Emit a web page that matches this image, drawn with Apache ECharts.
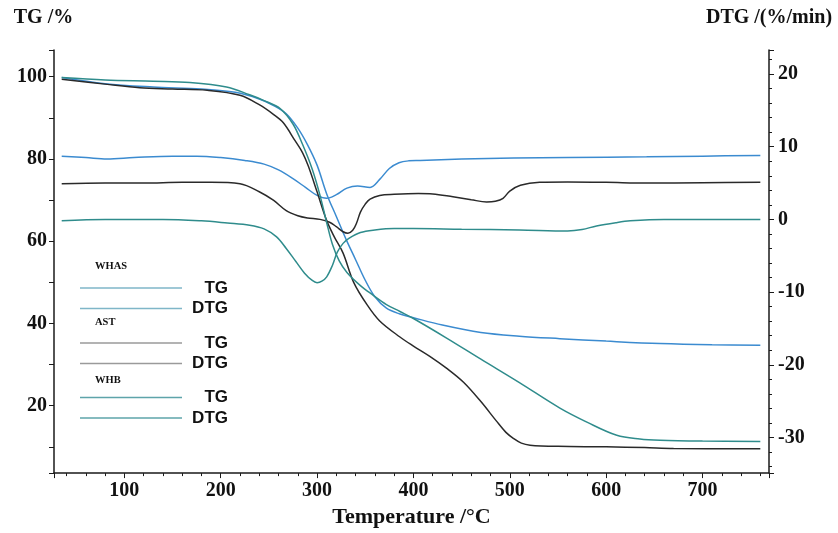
<!DOCTYPE html>
<html>
<head>
<meta charset="utf-8">
<script src="https://cdn.jsdelivr.net/npm/echarts@6/dist/echarts.min.js"></script>
<style>html,body{margin:0;padding:0;background:#fff}#c{width:838px;height:533px}</style>
</head>
<body>
<div id="c"></div>
<script>
// [temperature °C, TG %]
const WHAS_TG = [[35,99.8],[80,98.3],[130,97.5],[180,97.0],[215,96.2],[240,94.6],[255,93.0],[268,91.0],[280,87.5],[290,83.5],[300,78.5],[310,71.5],[320,66.0],[330,60.5],[340,55.5],[350,50.5],[360,46.5],[372,43.7],[386,42.3],[400,41.4],[430,39.6],[470,37.8],[510,36.9],[552,36.3],[600,35.7],[656,35.1],[710,34.8],[760,34.7]];
const AST_TG = [[35,99.4],[80,98.2],[116,97.3],[150,97.0],[186,96.7],[220,95.5],[240,93.2],[255,90.8],[265,88.8],[277,84.5],[285,81.5],[291,78.2],[300,72.0],[310,65.0],[318,61.0],[327,57.1],[338,50.0],[352,44.5],[365,40.6],[386,36.7],[400,34.5],[417,32.0],[435,29.0],[452,25.7],[470,21.0],[486,16.3],[496,13.5],[504,12.0],[512,10.9],[521,10.4],[550,10.1],[600,10.0],[640,9.8],[670,9.6],[760,9.5]];
const WHB_TG = [[35,99.8],[80,99.2],[130,98.9],[168,98.6],[206,97.5],[230,95.6],[245,94.2],[262,92.2],[275,88.5],[285,83.5],[295,77.5],[303,71.2],[310,64.5],[316,59.2],[323,55.2],[331,52.4],[345,49.2],[358,46.9],[372,44.6],[386,42.9],[400,41.2],[434,36.5],[470,31.3],[510,25.6],[552,19.4],[580,16.0],[611,12.8],[635,11.9],[656,11.6],[700,11.4],[760,11.3]];
// [temperature °C, DTG %/min]
const WHAS_DTG = [[35,8.7],[60,8.5],[82,8.3],[110,8.5],[150,8.7],[175,8.7],[200,8.5],[225,8.1],[245,7.6],[260,6.8],[275,5.6],[288,4.4],[300,3.3],[310,2.9],[320,3.4],[331,4.3],[342,4.6],[355,4.4],[365,5.5],[375,7.0],[385,7.8],[395,8.05],[407,8.1],[450,8.3],[504,8.45],[560,8.5],[642,8.6],[700,8.7],[760,8.8]];
const AST_DTG = [[35,4.9],[80,5.0],[120,5.0],[160,5.1],[190,5.1],[220,4.9],[240,3.8],[255,2.6],[268,1.2],[280,0.5],[290,0.2],[303,0.0],[313,-0.4],[320,-1.0],[327,-1.7],[332,-1.9],[337,-1.5],[341,-0.5],[345,1.0],[350,2.1],[355,2.8],[365,3.3],[380,3.45],[405,3.55],[420,3.5],[441,3.1],[460,2.7],[476,2.4],[485,2.5],[493,2.9],[500,3.9],[511,4.7],[531,5.1],[560,5.15],[600,5.1],[642,5.0],[700,5.05],[760,5.1]];
const WHB_DTG = [[35,-0.2],[80,0.0],[140,0.0],[180,-0.2],[207,-0.5],[230,-0.8],[245,-1.3],[258,-2.4],[268,-4.0],[278,-5.8],[287,-7.4],[295,-8.4],[300,-8.7],[305,-8.5],[310,-7.9],[316,-6.3],[321,-4.5],[327,-3.3],[333,-2.6],[345,-1.8],[360,-1.45],[380,-1.25],[400,-1.25],[450,-1.35],[510,-1.45],[560,-1.6],[575,-1.4],[590,-0.9],[610,-0.45],[625,-0.2],[660,0.0],[760,0.0]];

const groups = ['WHAS', 'AST', 'WHB'];
const lineColors = {WHAS: '#3b8bd0', AST: '#2a2a2a', WHB: '#2f8c8c'};
const legendColors = {WHAS: '#7fb6c8', AST: '#9a9a9a', WHB: '#5ea4aa'};
const legendTops = [279.5, 334.5, 389];
const titleTops = [267, 323, 381];

const serif = 'Liberation Serif';
const sans = 'Liberation Sans';

const chart = echarts.init(document.getElementById('c'), null, {renderer: 'canvas'});

function mkSeries(name, data, yIdx, color) {
  return {
    name: name, type: 'line', data: data, yAxisIndex: yIdx,
    showSymbol: false, symbol: 'none', smooth: 0.35,
    lineStyle: {color: color, width: 1.5}, itemStyle: {color: color},
    animation: false, z: 3
  };
}

const series = [
  mkSeries('WHAS TG', WHAS_TG, 0, lineColors.WHAS),
  mkSeries('WHAS DTG', WHAS_DTG, 1, lineColors.WHAS),
  mkSeries('AST TG', AST_TG, 0, lineColors.AST),
  mkSeries('AST DTG', AST_DTG, 1, lineColors.AST),
  mkSeries('WHB TG', WHB_TG, 0, lineColors.WHB),
  mkSeries('WHB DTG', WHB_DTG, 1, lineColors.WHB)
];

const legends = groups.map((g, i) => ({
  orient: 'vertical', left: 80, top: legendTops[i], padding: 0,
  itemWidth: 102, itemHeight: 1.5, itemGap: 3.5, icon: 'rect',
  selectedMode: false,
  data: ['TG', 'DTG'].map(k => ({name: g + ' ' + k, itemStyle: {color: legendColors[g]}})),
  formatter: n => '{r|' + n.split(' ')[1] + '}',
  textStyle: {
    lineHeight: 14,
    rich: {r: {width: 41, align: 'right', fontFamily: sans, fontWeight: 'bold', fontSize: 17, color: '#111', lineHeight: 14}}
  }
}));

const axisLineStyle = {color: '#1a1a1a', width: 1.5};
const tickFont = {fontFamily: serif, fontWeight: 'bold', fontSize: 20, color: '#111'};

chart.setOption({
  animation: false,
  backgroundColor: '#fff',
  grid: {left: 54, right: 69, top: 50, bottom: 46, containLabel: false},
  legend: legends,
  graphic: groups.map((g, i) => ({
    type: 'text', left: 113 - 18, top: titleTops[i] - 6,
    style: {text: g, width: 36, align: 'center', fontFamily: serif, fontWeight: 'bold', fontSize: 10.5, fill: '#111'}
  })),
  xAxis: {
    type: 'value', min: 27, max: 769,
    name: 'Temperature /°C', nameLocation: 'middle', nameGap: 24,
    nameTextStyle: {fontFamily: serif, fontWeight: 'bold', fontSize: 22, color: '#111'},
    axisLine: {show: true, onZero: false, lineStyle: axisLineStyle},
    axisTick: {show: true, length: 5, lineStyle: {color: '#1a1a1a', width: 1}},
    minorTick: {show: true, splitNumber: 5, length: 3, lineStyle: {color: '#1a1a1a', width: 1}},
    axisLabel: Object.assign({margin: 8, formatter: v => (Math.abs(v % 100) < 1e-6 ? String(v) : '')}, tickFont),
    splitLine: {show: false}
  },
  yAxis: [
    {
      type: 'value', min: 3.6, max: 106.5, position: 'left',
      name: 'TG /%', nameLocation: 'end', nameGap: 22,
      nameTextStyle: {fontFamily: serif, fontWeight: 'bold', fontSize: 20, color: '#111', align: 'center', padding: [0, 21, 0, 0]},
      axisLine: {show: true, onZero: false, lineStyle: axisLineStyle},
      axisTick: {show: true, length: 5, lineStyle: {color: '#1a1a1a', width: 1}},
      minorTick: {show: true, splitNumber: 2, length: 5, lineStyle: {color: '#1a1a1a', width: 1}},
      axisLabel: Object.assign({margin: 7, formatter: v => ((Math.abs(v % 20) < 1e-6 && v >= 20 && v <= 100) ? String(v) : '')}, tickFont),
      splitLine: {show: false}
    },
    {
      type: 'value', min: -34.9, max: 23.3, position: 'right',
      name: 'DTG /(%/min)', nameLocation: 'end', nameGap: 22,
      nameTextStyle: {fontFamily: serif, fontWeight: 'bold', fontSize: 20, color: '#111', align: 'center'},
      axisLine: {show: true, onZero: false, lineStyle: axisLineStyle},
      axisTick: {show: true, length: 5, lineStyle: {color: '#1a1a1a', width: 1}},
      minorTick: {show: true, splitNumber: 5, length: 3, lineStyle: {color: '#1a1a1a', width: 1}},
      axisLabel: Object.assign({margin: 9, formatter: v => ((Math.abs(v % 10) < 1e-6 && v >= -30 && v <= 20) ? String(v) : '')}, tickFont),
      splitLine: {show: false}
    }
  ],
  series: series
});
</script>
</body>
</html>
